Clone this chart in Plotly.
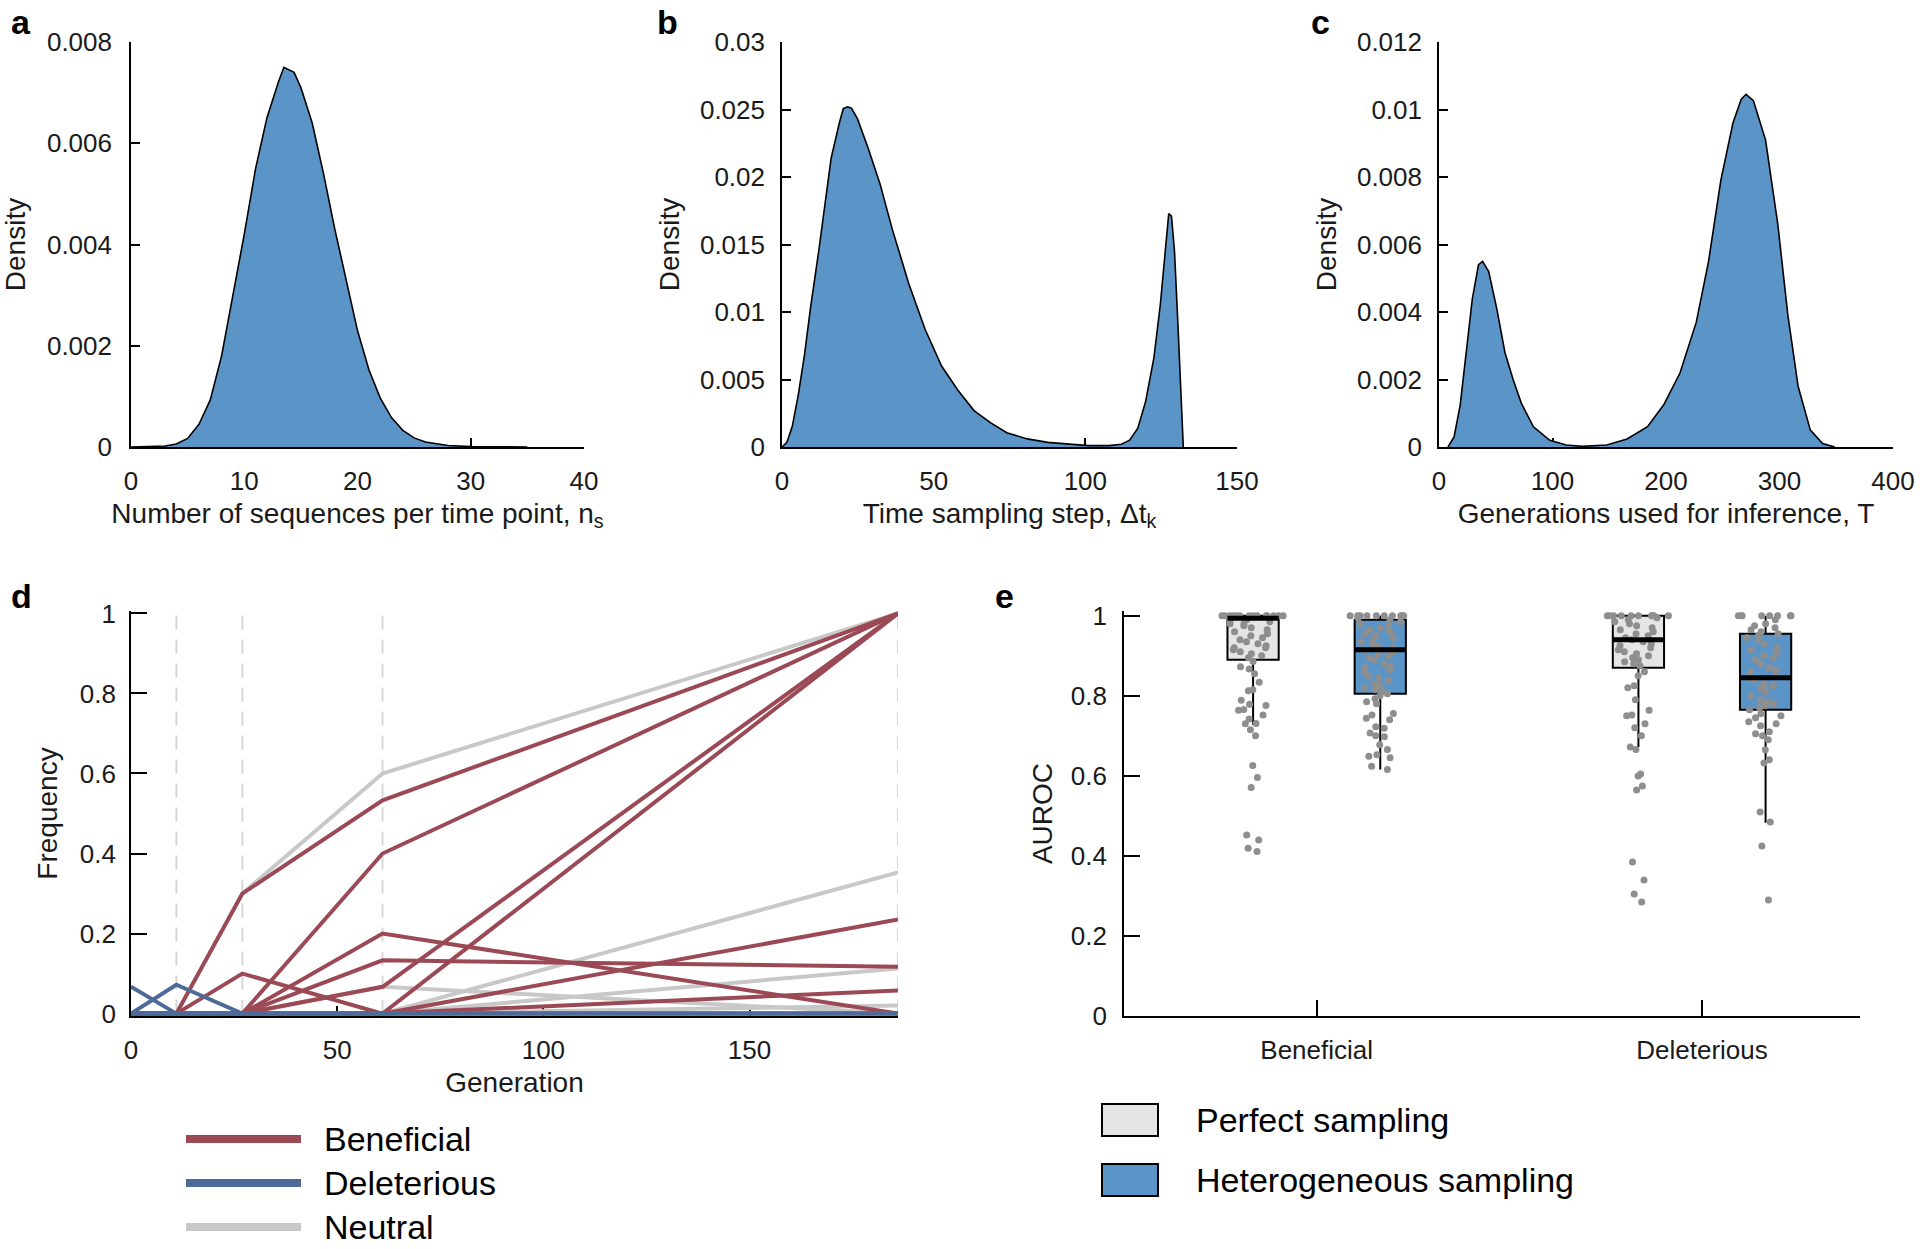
import plotly.graph_objects as go

W, H = 1920, 1249
FONT = "Liberation Sans, Arial, Helvetica, sans-serif"
TXT = "#1a1a1a"
FILL_BLUE = "#5B94C7"
FILL_GRAY = "#E5E5E5"
RED = "#9B4A55"
BLUE_D = "#4E6A99"
GRAY_N = "#C8C8C8"
DOT = "#8E8E8E"

# ---------------- Panel a: sequences per time point ----------------
ns_x = [0, 2, 3, 4, 5, 6, 7, 8, 9, 10, 11, 12, 13, 13.5, 14.4, 15, 16, 17, 18, 19,
        20, 21, 22, 23, 24, 25, 26, 28, 30, 35]
ns_density = [0, 0.000005, 0.00002, 0.00006, 0.00017, 0.00045, 0.00093, 0.0018, 0.0030,
              0.0042, 0.0055, 0.0065, 0.0072, 0.0075, 0.0074, 0.0071, 0.0064, 0.0054,
              0.0043, 0.0033, 0.0023, 0.00153, 0.00097, 0.00058, 0.00033, 0.00018,
              0.00010, 0.00003, 0.000008, 0]
a_xticks = [0, 10, 20, 30, 40]
a_yticks = [0, 0.002, 0.004, 0.006, 0.008]

# ---------------- Panel b: time sampling step ----------------
dt_x = [0, 1.6, 3.4, 5.4, 7.4, 9.4, 12.1, 14.2, 16.2, 18.9, 20.2, 21.6, 22.9, 24.9, 28.3,
        32.3, 36.4, 41.8, 47.2, 52.6, 58, 63.3, 68.7, 74.1, 80.9, 87.6, 94.3, 101, 107.8,
        111.9, 114.6, 117.3, 119.9, 122.6, 124.7, 126.4, 127.5, 128.4, 129.4, 130.5,
        131.4, 132.3]
dt_density = [0, 0.00034, 0.00153, 0.0039, 0.0068, 0.0103, 0.0145, 0.0182, 0.0214, 0.0240,
              0.02506, 0.0252, 0.0251, 0.0243, 0.0222, 0.0195, 0.0161, 0.0121, 0.0087,
              0.0060, 0.0042, 0.0027, 0.0018, 0.00106, 0.0006, 0.00034, 0.0002, 0.0001,
              0.0001, 0.0002, 0.0005, 0.0014, 0.0034, 0.0066, 0.0105, 0.0145, 0.0173,
              0.0171, 0.0145, 0.0092, 0.0039, 0]
b_xticks = [0, 50, 100, 150]
b_yticks = [0, 0.005, 0.01, 0.015, 0.02, 0.025, 0.03]

# ---------------- Panel c: generations used for inference ----------------
T_x = [7.9, 13.3, 18.7, 24, 29.4, 34.8, 38.4, 43.8, 50.9, 58.1, 65.3, 72.5, 83.2, 97.6,
       112, 126, 147.8, 165.7, 183.7, 198, 212.4, 226.7, 237.5, 248.3, 259, 266.2, 270.5,
       277, 287.7, 298.5, 307.4, 316.4, 327.2, 338, 348.7]
T_density = [0, 0.0003, 0.00125, 0.00283, 0.0044, 0.0054, 0.0055, 0.0052, 0.0041, 0.0028,
             0.0020, 0.0013, 0.0006, 0.0002, 0.00006, 0.00002, 0.00006, 0.00024, 0.0006,
             0.00125, 0.0022, 0.0037, 0.0055, 0.0079, 0.0096, 0.0103, 0.01045, 0.01026,
             0.0091, 0.0066, 0.0039, 0.0018, 0.0005, 0.0001, 0]
c_xticks = [0, 100, 200, 300, 400]
c_yticks = [0, 0.002, 0.004, 0.006, 0.008, 0.01, 0.012]

# ---------------- Panel d: trajectories ----------------
generations = [0, 11, 27, 61, 186]
beneficial_traj = [
    [0, 0, 0.30, 0.533, 1.0],
    [0, 0, 0, 0.40, 1.0],
    [0, 0, 0, 0.20, 0.0],
    [0, 0, 0, 0.133, 0.117],
    [0, 0, 0, 0.067, 1.0],
    [0, 0, 0, 0, 1.0],
    [0, 0, 0.10, 0, 0.235],
    [0, 0, 0, 0, 0.058],
]
deleterious_traj = [
    [0.067, 0, 0, 0, 0],
    [0, 0.072, 0, 0, 0],
    [0, 0, 0, 0, 0],
]
neutral_traj = [
    [0, 0, 0.30, 0.60, 1.0],
    [0, 0, 0, 0, 0.353],
    [0, 0, 0, 0.067, 0.0],
    [0, 0, 0, 0, 0.113],
    [0, 0, 0, 0, 0.02],
]
d_xticks = [0, 50, 100, 150]
d_yticks = [0, 0.2, 0.4, 0.6, 0.8, 1]

# ---------------- Panel e: AUROC ----------------
categories = ["Beneficial", "Deleterious"]
perfect_q1 = [0.89, 0.87]
perfect_median = [0.994, 0.94]
perfect_q3 = [1.0, 1.0]
perfect_lowerfence = [0.727, 0.672]
perfect_upperfence = [1.0, 1.0]
hetero_q1 = [0.805, 0.765]
hetero_median = [0.915, 0.845]
hetero_q3 = [0.99, 0.955]
hetero_lowerfence = [0.616, 0.483]
hetero_upperfence = [1.0, 1.0]

auroc_ben_perfect = [1.0, 1.0, 1.0, 1.0, 1.0, 1.0, 1.0, 1.0, 1.0, 1.0, 1.0, 1.0, 1.0, 1.0,
                     0.995, 0.99, 0.99, 0.985, 0.98, 0.98, 0.975, 0.97, 0.965, 0.96, 0.955,
                     0.95, 0.945, 0.94, 0.935, 0.93, 0.925, 0.92, 0.92, 0.915, 0.91, 0.905,
                     0.90, 0.895, 0.886, 0.873, 0.867, 0.855, 0.834, 0.815, 0.813, 0.789,
                     0.779, 0.776, 0.766, 0.764, 0.752, 0.742, 0.731, 0.73, 0.715, 0.70,
                     0.626, 0.596, 0.571, 0.452, 0.44, 0.419, 0.411]
auroc_ben_hetero = [1.0, 1.0, 1.0, 1.0, 1.0, 1.0, 1.0, 1.0, 1.0, 1.0, 0.995, 0.99, 0.985,
                    0.98, 0.975, 0.97, 0.965, 0.96, 0.955, 0.95, 0.945, 0.94, 0.935, 0.93,
                    0.925, 0.92, 0.915, 0.91, 0.905, 0.90, 0.895, 0.89, 0.88, 0.875, 0.87,
                    0.865, 0.86, 0.85, 0.845, 0.84, 0.83, 0.825, 0.82, 0.815, 0.81, 0.805,
                    0.80, 0.793, 0.785, 0.78, 0.756, 0.752, 0.744, 0.74, 0.723, 0.719, 0.707,
                    0.70, 0.698, 0.678, 0.666, 0.653, 0.649, 0.645, 0.624, 0.616]
auroc_del_perfect = [1.0, 1.0, 1.0, 1.0, 1.0, 1.0, 1.0, 1.0, 1.0, 1.0, 0.995, 0.99, 0.985,
                     0.98, 0.975, 0.97, 0.965, 0.96, 0.955, 0.95, 0.945, 0.94, 0.935, 0.93,
                     0.925, 0.92, 0.915, 0.91, 0.905, 0.90, 0.895, 0.89, 0.885, 0.88, 0.875,
                     0.86, 0.85, 0.825, 0.82, 0.79, 0.764, 0.752, 0.75, 0.73, 0.72, 0.70,
                     0.672, 0.666, 0.605, 0.60, 0.575, 0.565, 0.385, 0.34, 0.305, 0.285]
auroc_del_hetero = [1.0, 1.0, 1.0, 1.0, 1.0, 1.0, 1.0, 1.0, 0.99, 0.98, 0.975, 0.97, 0.965,
                    0.96, 0.955, 0.95, 0.945, 0.94, 0.93, 0.92, 0.915, 0.91, 0.90, 0.895,
                    0.89, 0.88, 0.87, 0.865, 0.86, 0.85, 0.845, 0.84, 0.83, 0.825, 0.82,
                    0.81, 0.80, 0.79, 0.785, 0.78, 0.775, 0.77, 0.765, 0.755, 0.75, 0.745,
                    0.735, 0.73, 0.725, 0.71, 0.705, 0.70, 0.69, 0.665, 0.64, 0.632, 0.51,
                    0.485, 0.425, 0.29]
e_yticks = [0, 0.2, 0.4, 0.6, 0.8, 1]

# ---------------- helpers ----------------
def fx(p):
    return p / W

def fy(p):
    return 1 - p / H

fig = go.Figure()

# density panels
for xs, ys, ax in [(ns_x, ns_density, ""), (dt_x, dt_density, "2"), (T_x, T_density, "3")]:
    fig.add_trace(go.Scatter(x=xs, y=ys, mode="lines", fill="tozeroy", fillcolor=FILL_BLUE,
                             line=dict(color="black", width=1.6), hoverinfo="skip",
                             xaxis="x" + ax, yaxis="y" + ax, showlegend=False))

# panel d: sampling time markers
for t in generations[1:]:
    fig.add_trace(go.Scatter(x=[t, t], y=[0, 1], mode="lines",
                             line=dict(color="#D4D4D4", width=1.8, dash="14px,10px"),
                             hoverinfo="skip", xaxis="x4", yaxis="y4", showlegend=False))
for traj in neutral_traj:
    fig.add_trace(go.Scatter(x=generations, y=traj, mode="lines", line=dict(color=GRAY_N, width=4),
                             xaxis="x4", yaxis="y4", showlegend=False))
for traj in beneficial_traj:
    fig.add_trace(go.Scatter(x=generations, y=traj, mode="lines", line=dict(color=RED, width=4),
                             xaxis="x4", yaxis="y4", showlegend=False))
for traj in deleterious_traj:
    fig.add_trace(go.Scatter(x=generations, y=traj, mode="lines", line=dict(color=BLUE_D, width=4),
                             xaxis="x4", yaxis="y4", showlegend=False))

# panel e: boxes
OFF = 0.165
BW = 0.133
pos_perfect = [i + 1 - OFF for i in range(len(categories))]
pos_hetero = [i + 1 + OFF for i in range(len(categories))]

for pos, q1, med, q3, lo, hi, fc in [
    (pos_perfect, perfect_q1, perfect_median, perfect_q3, perfect_lowerfence, perfect_upperfence, FILL_GRAY),
    (pos_hetero, hetero_q1, hetero_median, hetero_q3, hetero_lowerfence, hetero_upperfence, FILL_BLUE),
]:
    fig.add_trace(go.Box(x=pos, q1=q1, median=med, q3=q3, lowerfence=lo, upperfence=hi,
                         width=BW, whiskerwidth=0, fillcolor=fc, line=dict(color="black", width=2),
                         boxpoints=False, hoverinfo="skip", xaxis="x5", yaxis="y5",
                         showlegend=False))

for pos, vals in [(pos_perfect[0], auroc_ben_perfect), (pos_hetero[0], auroc_ben_hetero),
                  (pos_perfect[1], auroc_del_perfect), (pos_hetero[1], auroc_del_hetero)]:
    fig.add_trace(go.Box(y=vals, x0=pos, width=BW * 1.25, boxpoints="all", jitter=1.0, pointpos=0,
                         whiskerwidth=0, marker=dict(color=DOT, size=7),
                         line=dict(color="rgba(0,0,0,0)", width=0),
                         fillcolor="rgba(0,0,0,0)", hoverinfo="y", xaxis="x5", yaxis="y5",
                         showlegend=False))

# thick median lines on top
for pos, med in [(pos_perfect, perfect_median), (pos_hetero, hetero_median)]:
    fig.add_trace(go.Box(x=pos, q1=med, median=med, q3=med, lowerfence=med, upperfence=med,
                         width=BW, whiskerwidth=0, fillcolor="rgba(0,0,0,0)",
                         line=dict(color="black", width=5),
                         boxpoints=False, hoverinfo="skip", xaxis="x5", yaxis="y5",
                         showlegend=False))

# ---------------- axes ----------------
def axis_style(**kw):
    base = dict(showline=True, linecolor="black", linewidth=1.6, ticks="inside",
                tickcolor="black", tickwidth=1.6, showgrid=False, zeroline=False,
                automargin=False,
                tickfont=dict(family=FONT, size=26, color=TXT), layer="below traces")
    base.update(kw)
    return base

title_font = dict(family=FONT, size=28, color=TXT)

top_y = [fy(447), fy(42)]
bot_y = [fy(1016), fy(611)]

fig.update_layout(
    xaxis=axis_style(domain=[fx(131), fx(584)], range=[0, 40], tickvals=a_xticks, anchor="y",
                     ticklen=9, ticklabelstandoff=10,
                     title=dict(text="Number of sequences per time point, n<sub>s</sub>", font=title_font, standoff=8)),
    yaxis=axis_style(domain=top_y, range=[0, 0.008], tickvals=a_yticks, anchor="x",
                     ticklen=9, ticklabelstandoff=12,
                     title=dict(text="Density", font=title_font, standoff=14)),
    xaxis2=axis_style(domain=[fx(782), fx(1237)], range=[0, 150], tickvals=b_xticks, anchor="y2",
                      ticklen=9, ticklabelstandoff=10,
                      title=dict(text="Time sampling step, Δt<sub>k</sub>", font=title_font, standoff=8)),
    yaxis2=axis_style(domain=top_y, range=[0, 0.03], tickvals=b_yticks, anchor="x2",
                      ticklen=9, ticklabelstandoff=10,
                      title=dict(text="Density", font=title_font, standoff=12)),
    xaxis3=axis_style(domain=[fx(1439), fx(1893)], range=[0, 400], tickvals=c_xticks, anchor="y3",
                      ticklen=9, ticklabelstandoff=10,
                      title=dict(text="Generations used for inference, T", font=title_font, standoff=8)),
    yaxis3=axis_style(domain=top_y, range=[0, 0.012], tickvals=c_yticks, anchor="x3",
                      ticklen=9, ticklabelstandoff=10,
                      title=dict(text="Density", font=title_font, standoff=12)),
    xaxis4=axis_style(domain=[fx(131), fx(898)], range=[0, 186], tickvals=d_xticks, anchor="y4",
                      ticklen=10, ticklabelstandoff=10,
                      title=dict(text="Generation", font=title_font, standoff=8)),
    yaxis4=axis_style(domain=bot_y, range=[-0.006, 1.006], tickvals=d_yticks, anchor="x4",
                      ticklen=16, ticklabelstandoff=8,
                      title=dict(text="Frequency", font=title_font, standoff=14)),
    xaxis5=axis_style(domain=[fx(1124), fx(1860)], range=[0.5, 2.41], tickvals=[1, 2],
                      ticktext=categories, anchor="y5", ticklen=16, ticklabelstandoff=10),
    yaxis5=axis_style(domain=bot_y, range=[0, 1.012], tickvals=e_yticks, anchor="x5",
                      ticklen=16, ticklabelstandoff=10,
                      title=dict(text="AUROC", font=title_font, standoff=10)),
)

# ---------------- panel letters ----------------
annotations = []
for letter, xp, yp in [("a", 9, 22), ("b", 655, 22), ("c", 1309, 22), ("d", 9, 596), ("e", 993, 596)]:
    annotations.append(dict(text="<b>%s</b>" % letter, x=fx(xp), y=fy(yp), xref="paper", yref="paper",
                            xanchor="left", yanchor="middle", showarrow=False,
                            font=dict(family=FONT, size=34, color="black")))

# ---------------- legends (manual) ----------------
shapes = []
for name, col, yc in [("Beneficial", RED, 1139), ("Deleterious", BLUE_D, 1183), ("Neutral", GRAY_N, 1227)]:
    shapes.append(dict(type="line", xref="paper", yref="paper", x0=fx(186), x1=fx(301),
                       y0=fy(yc), y1=fy(yc), line=dict(color=col, width=8)))
    annotations.append(dict(text=name, x=fx(322), y=fy(yc), xref="paper", yref="paper",
                            xanchor="left", yanchor="middle", showarrow=False,
                            font=dict(family=FONT, size=34, color="black")))
for name, col, yc in [("Perfect sampling", FILL_GRAY, 1120), ("Heterogeneous sampling", FILL_BLUE, 1180)]:
    shapes.append(dict(type="rect", xref="paper", yref="paper", x0=fx(1102), x1=fx(1158),
                       y0=fy(yc - 16), y1=fy(yc + 16), fillcolor=col,
                       line=dict(color="black", width=2)))
    annotations.append(dict(text=name, x=fx(1194), y=fy(yc), xref="paper", yref="paper",
                            xanchor="left", yanchor="middle", showarrow=False,
                            font=dict(family=FONT, size=34, color="black")))

fig.update_layout(width=W, height=H, margin=dict(l=0, r=0, t=0, b=0, autoexpand=False),
                  paper_bgcolor="white", plot_bgcolor="white", showlegend=False,
                  font=dict(family=FONT, size=26, color=TXT),
                  annotations=annotations, shapes=shapes, boxmode="overlay")

fig.write_html("out.html", config={"displayModeBar": False},
               post_script="document.body.style.margin='0';document.body.style.overflow='hidden';")
